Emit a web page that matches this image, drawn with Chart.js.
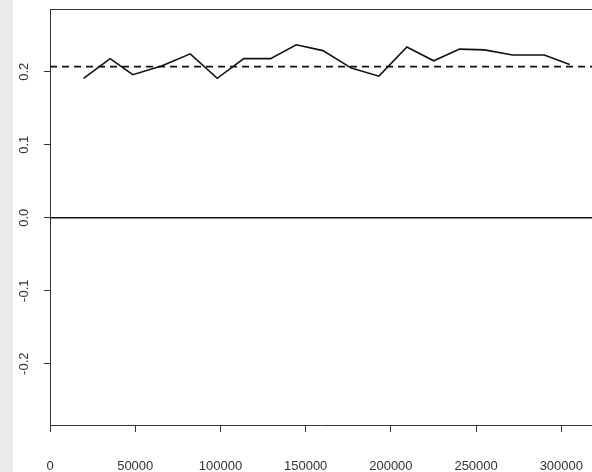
<!DOCTYPE html>
<html>
<head>
<meta charset="utf-8">
<script src="https://cdn.jsdelivr.net/npm/chart.js@4/dist/chart.umd.min.js"></script>
<style>
  html, body { margin: 0; padding: 0; background: #fff; }
  #wrap { position: relative; width: 592px; height: 472px; }
</style>
</head>
<body>
<div id="wrap"><canvas id="chart" width="592" height="472"></canvas></div>
<script>
// data
const xValues = [19700, 35300, 48600, 65400, 82300, 98100, 113700, 129400, 144500, 160100,
                 176800, 193000, 209400, 225100, 240300, 255000, 271400, 290000, 304900];
const yValues = [0.191, 0.218, 0.196, 0.208, 0.2245, 0.191, 0.218, 0.218, 0.237, 0.229,
                 0.205, 0.194, 0.234, 0.215, 0.231, 0.230, 0.223, 0.223, 0.210];
const meanLevel = 0.207;
const zeroLevel = 0;

const xTicks = [0, 50000, 100000, 150000, 200000, 250000, 300000];
const yTicks = [-0.2, -0.1, 0.0, 0.1, 0.2];
const yTickLabels = ['-0.2', '-0.1', '0.0', '0.1', '0.2'];

const xMin = 0, xMax = 318000;
const yMin = -0.284, yMax = 0.286;

const ink = '#333';
const font = { family: '"Liberation Sans", Arial, sans-serif', size: 13 };

const frame = {
    id: 'frame',
    beforeDraw(chart) {
        const ctx = chart.ctx;
        ctx.save();
        ctx.fillStyle = '#fff';
        ctx.fillRect(0, 0, chart.width, chart.height);
        ctx.fillStyle = '#ebebeb';
        ctx.fillRect(0, 0, 13, chart.height);
        ctx.restore();
    },
    afterDraw(chart) {
        const ctx = chart.ctx;
        const area = chart.chartArea;
        const y = chart.scales.y;
        ctx.save();
        // top of the box
        ctx.strokeStyle = ink;
        ctx.lineWidth = 1;
        ctx.beginPath();
        ctx.moveTo(area.left, area.top + 0.5);
        ctx.lineTo(area.right, area.top + 0.5);
        ctx.stroke();
        // rotated y labels
        ctx.fillStyle = ink;
        ctx.font = font.size + 'px ' + font.family;
        ctx.textAlign = 'center';
        ctx.textBaseline = 'alphabetic';
        yTicks.forEach((v, i) => {
            ctx.save();
            ctx.translate(28, y.getPixelForValue(v));
            ctx.rotate(-Math.PI / 2);
            ctx.fillText(yTickLabels[i], 0, 0);
            ctx.restore();
        });
        ctx.restore();
    }
};

new Chart(document.getElementById('chart'), {
    type: 'line',
    data: {
        datasets: [
            {
                data: xValues.map((x, i) => ({ x: x, y: yValues[i] })),
                borderColor: '#111',
                borderWidth: 1.6,
                pointRadius: 0,
                tension: 0
            },
            {
                data: [{ x: xMin, y: meanLevel }, { x: xMax, y: meanLevel }],
                borderColor: '#111',
                borderWidth: 1.6,
                borderDash: [7, 5],
                pointRadius: 0
            },
            {
                data: [{ x: xMin, y: zeroLevel }, { x: xMax, y: zeroLevel }],
                borderColor: '#111',
                borderWidth: 1.6,
                pointRadius: 0
            }
        ]
    },
    options: {
        responsive: false,
        animation: false,
        devicePixelRatio: 1,
        layout: { padding: { top: 9, right: 0, left: 0, bottom: 0 } },
        plugins: { legend: { display: false }, tooltip: { enabled: false } },
        scales: {
            x: {
                type: 'linear',
                min: xMin,
                max: xMax,
                afterBuildTicks: s => { s.ticks = xTicks.map(v => ({ value: v })); },
                afterFit: s => {
                    s.height = 47;
                    s.paddingLeft = 0;
                    s.paddingRight = 0;
                },
                grid: { drawOnChartArea: false, drawTicks: true, tickLength: 7, color: ink },
                border: { display: true, color: ink, width: 1 },
                ticks: {
                    color: ink,
                    font: font,
                    padding: 27,
                    maxRotation: 0,
                    autoSkip: false,
                    callback: v => String(v)
                }
            },
            y: {
                type: 'linear',
                min: yMin,
                max: yMax,
                afterBuildTicks: s => { s.ticks = yTicks.map(v => ({ value: v })); },
                afterFit: s => {
                    s.width = 50;
                    s.paddingTop = 0;
                    s.paddingBottom = 0;
                },
                grid: { drawOnChartArea: false, drawTicks: true, tickLength: 6, color: ink },
                border: { display: true, color: ink, width: 1 },
                ticks: { display: false }
            }
        }
    },
    plugins: [frame]
});
</script>
</body>
</html>
